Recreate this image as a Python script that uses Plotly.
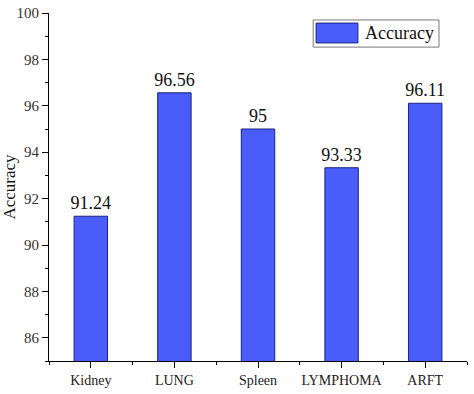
import plotly.graph_objects as go

categories = ["Kidney", "LUNG", "Spleen", "LYMPHOMA", "ARFT"]
accuracy = [91.24, 96.56, 95, 93.33, 96.11]
labels = ["91.24", "96.56", "95", "93.33", "96.11"]
y_ticks = [86, 88, 90, 92, 94, 96, 98, 100]
series_name = "Accuracy"

xpos = list(range(len(categories)))
serif = "Liberation Serif, Times New Roman, serif"
bar_color = "#4a5cfa"
edge_color = "#1a237e"

fig = go.Figure()
fig.add_trace(go.Bar(
    x=xpos, y=accuracy, name=series_name, width=0.4,
    marker=dict(color=bar_color, line=dict(color=edge_color, width=1)),
    text=labels, textposition="outside", cliponaxis=False, constraintext="none",
    textfont=dict(family=serif, size=18, color="#111"),
))
fig.update_layout(
    width=474, height=394,
    margin=dict(l=49, r=7, t=13, b=33, autoexpand=False),
    paper_bgcolor="white", plot_bgcolor="white",
    showlegend=False,
)
# legend box drawn in paper coordinates
fig.add_shape(type="rect", xref="paper", yref="paper", x0=0.632, x1=0.933, y0=0.902, y1=0.980,
              line=dict(color="#777", width=1), fillcolor="white")
fig.add_shape(type="rect", xref="paper", yref="paper", x0=0.639, x1=0.739, y0=0.914, y1=0.971,
              line=dict(color=edge_color, width=1), fillcolor=bar_color)
fig.add_annotation(text=series_name, xref="paper", yref="paper", x=0.752, y=0.943,
                   xanchor="left", yanchor="middle", showarrow=False,
                   font=dict(family=serif, size=18, color="#111"))
fig.update_xaxes(
    range=[-0.5, 4.5], tickmode="array", tickvals=xpos, ticktext=categories,
    showline=True, linecolor="black", linewidth=1, showgrid=False, zeroline=False,
    ticks="outside", ticklen=6, tickcolor="black", automargin=False,
    minor=dict(dtick=0.5, tick0=0.5, ticks="outside", ticklen=3, tickcolor="black"),
    tickfont=dict(family=serif, size=14, color="#222"),
)
fig.update_yaxes(
    range=[85, 100], tickmode="array", tickvals=y_ticks,
    showline=True, linecolor="black", linewidth=1, showgrid=False, zeroline=False,
    ticks="outside", ticklen=6, tickcolor="black", automargin=False,
    minor=dict(dtick=1, tick0=85, ticks="outside", ticklen=3, tickcolor="black"),
    tickfont=dict(family=serif, size=15, color="#333"),
    title=dict(text=series_name, font=dict(family=serif, size=17, color="#111"), standoff=2),
)
fig.write_html("out.html", config={"displayModeBar": False},
               post_script="document.body.style.margin='0';document.body.style.padding='0';")
